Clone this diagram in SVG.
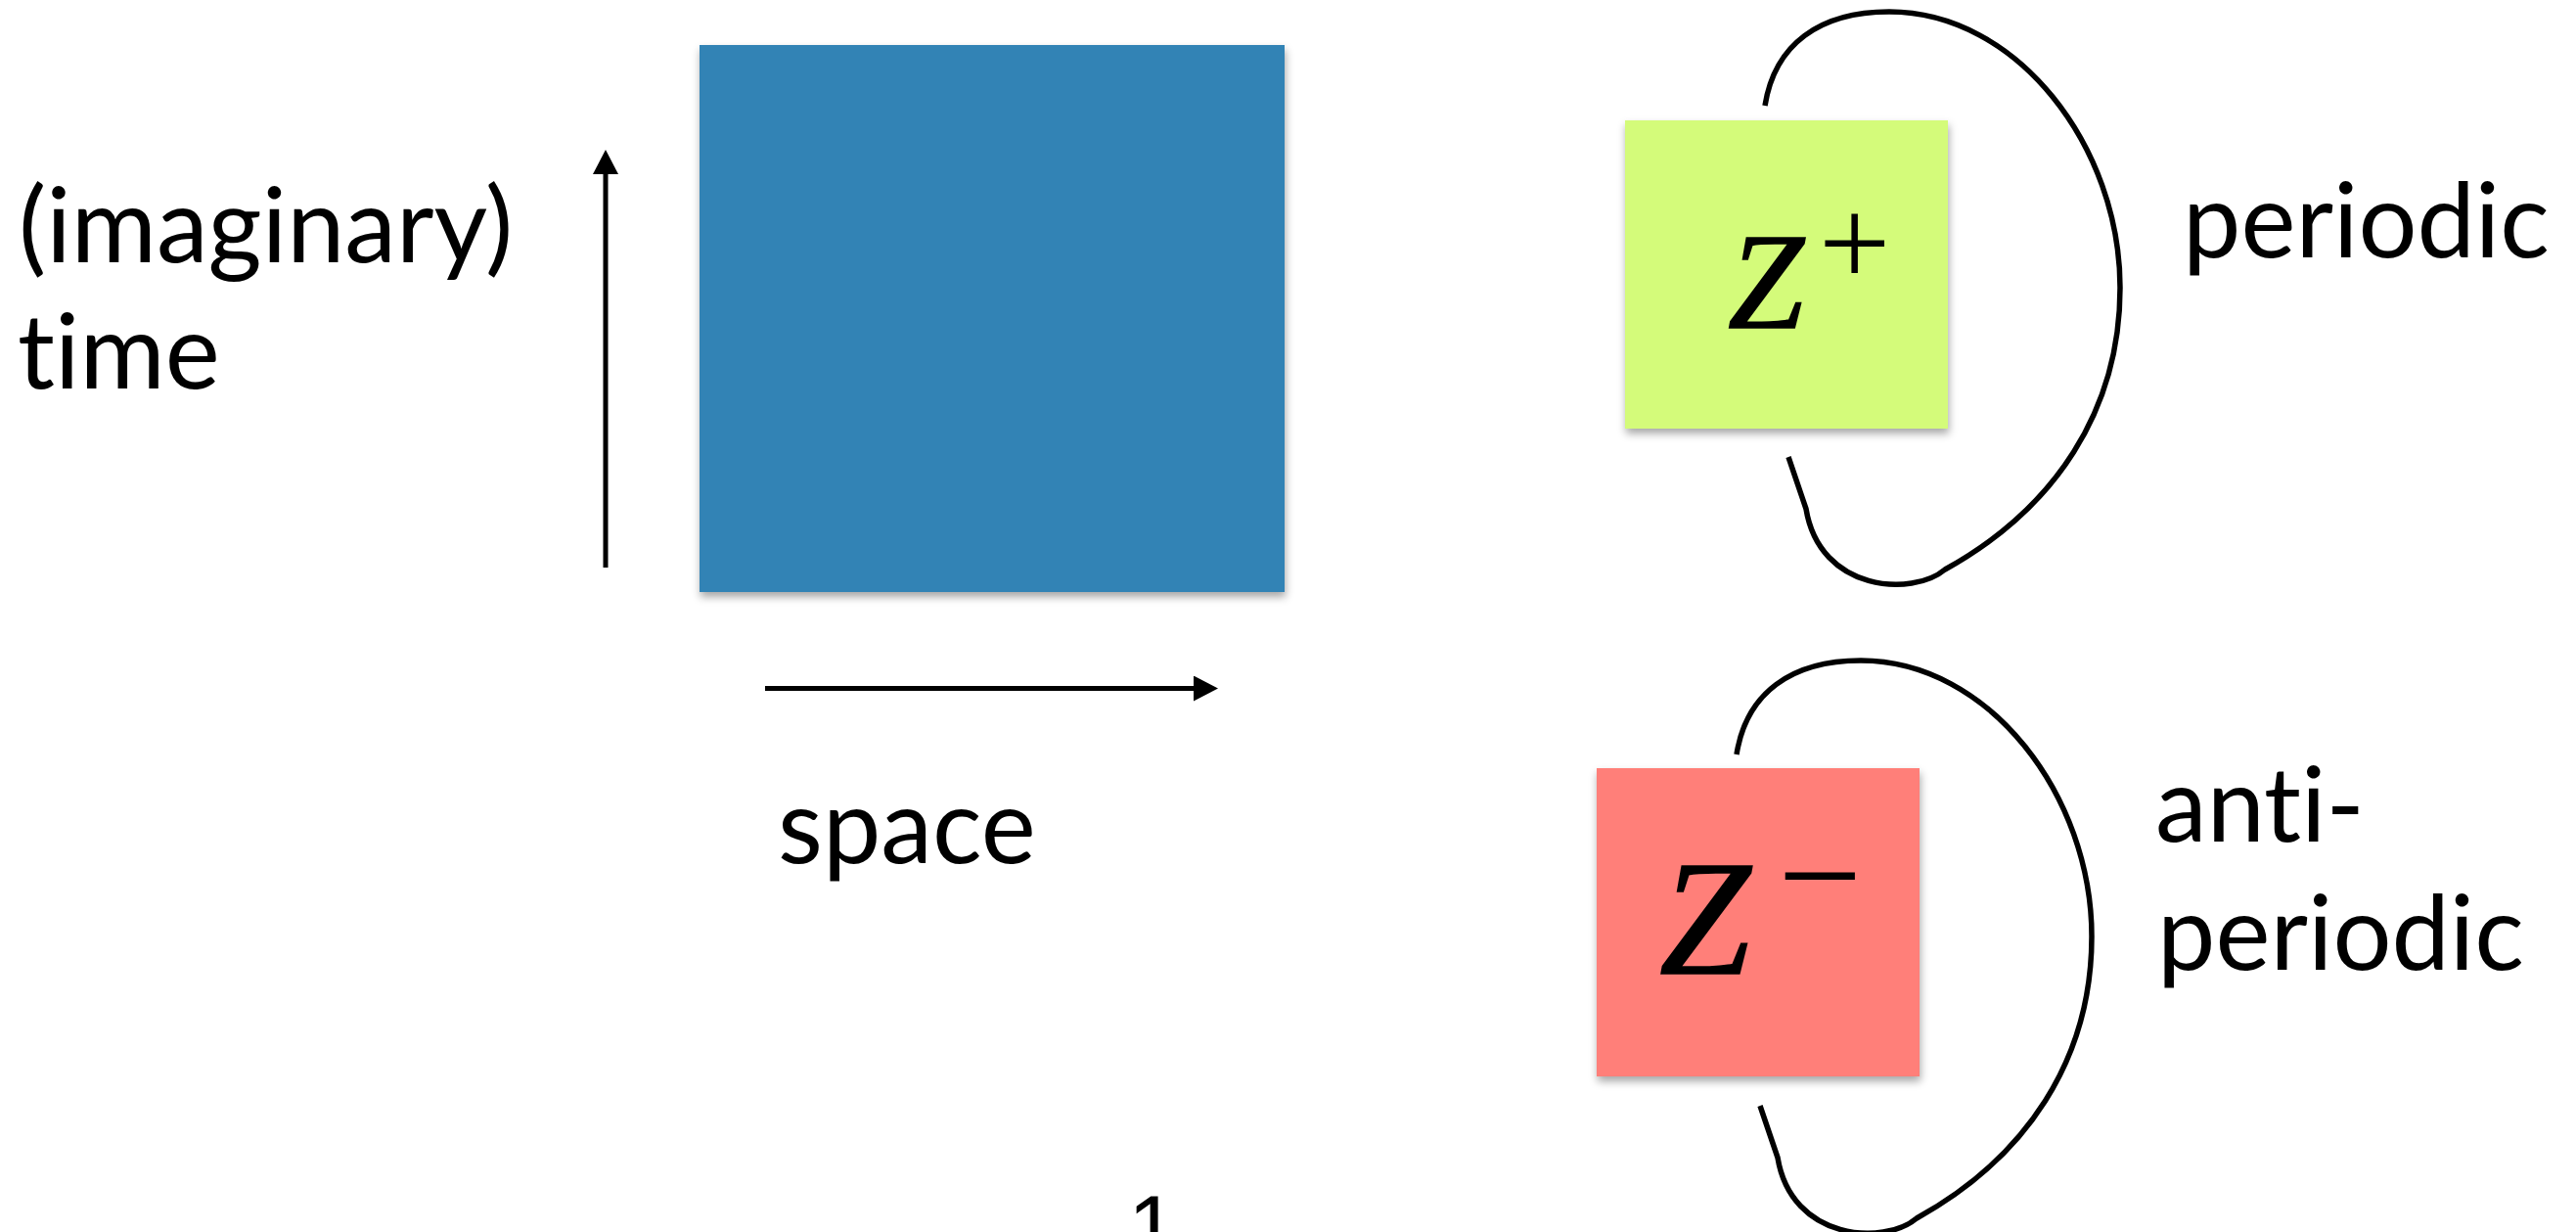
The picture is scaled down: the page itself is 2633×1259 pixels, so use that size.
<svg xmlns="http://www.w3.org/2000/svg" xmlns:xlink="http://www.w3.org/1999/xlink" width="2633" height="1259" viewBox="0 0 2633 1259">
<style>
.lbl{font-family:Lato,"Open Sans","Noto Sans",sans-serif;font-size:106px;fill:#000;font-variant-ligatures:none;font-feature-settings:"liga" 0,"clig" 0}
.math{font-family:"Liberation Serif","DejaVu Serif",serif;fill:#000}
.zi{font-style:italic;stroke:#000;stroke-width:1.6}
.conn{fill:none;stroke:#000;stroke-width:5}
.loop{fill:none;stroke:#000;stroke-width:5.5;stroke-linejoin:round}
</style>
<defs>
<filter id="sh" x="-10%" y="-10%" width="125%" height="125%">
<feDropShadow dx="1" dy="5" stdDeviation="4" flood-color="#000" flood-opacity="0.35"/>
</filter>
<marker id="ah" viewBox="0 0 26 26" refX="1" refY="13" markerWidth="26" markerHeight="26" markerUnits="userSpaceOnUse" orient="auto">
<path d="M0,0 L25,13 L0,26 z" fill="#000"/>
</marker>
<path id="loopPath" d="M1804,108 C1814,45 1860,12 1931,12 C2062,12 2167,150 2167,294 C2167,420 2100,520 1988,582 C1955,610 1860,605 1846,520 L1828,467"/>
</defs>
<rect width="2633" height="1259" fill="#fff"/>

<g id="domain">
<rect x="715" y="46" width="598" height="559" fill="#3383b5" filter="url(#sh)"/>
</g>

<g id="zplus">
<rect x="1661" y="123" width="330" height="315" fill="#d4fb7a" filter="url(#sh)"/>
<text class="math zi" x="1766" y="335" font-size="140">Z</text>
<text class="math" x="1859" y="292" font-size="130">+</text>
</g>

<g id="zminus">
<rect x="1632" y="785" width="330" height="315" fill="#ff7f79" filter="url(#sh)"/>
<text class="math zi" x="1696" y="995" font-size="168">Z</text>
<text class="math" x="1817" y="946" font-size="153">−</text>
</g>

<g id="labels">
<text class="lbl" x="19" y="268">(imaginary)</text>
<text class="lbl" x="18" y="397">time</text>
<text class="lbl" x="795" y="882">space</text>
<text class="lbl" x="2231" y="263">periodic</text>
<text class="lbl" x="2203" y="860">anti-</text>
<text class="lbl" x="2205" y="991">periodic</text>
<text x="1153" y="1285" font-family="Liberation Sans,Arial,sans-serif" font-size="90">1</text>
</g>

<g id="connectors">
<line class="conn" x1="619" y1="580" x2="619" y2="177" marker-end="url(#ah)"/>
<line class="conn" x1="782" y1="703.5" x2="1221" y2="703.5" marker-end="url(#ah)"/>
<use xlink:href="#loopPath" class="loop"/>
<use xlink:href="#loopPath" class="loop" transform="translate(-29,663)"/>
</g>
</svg>
